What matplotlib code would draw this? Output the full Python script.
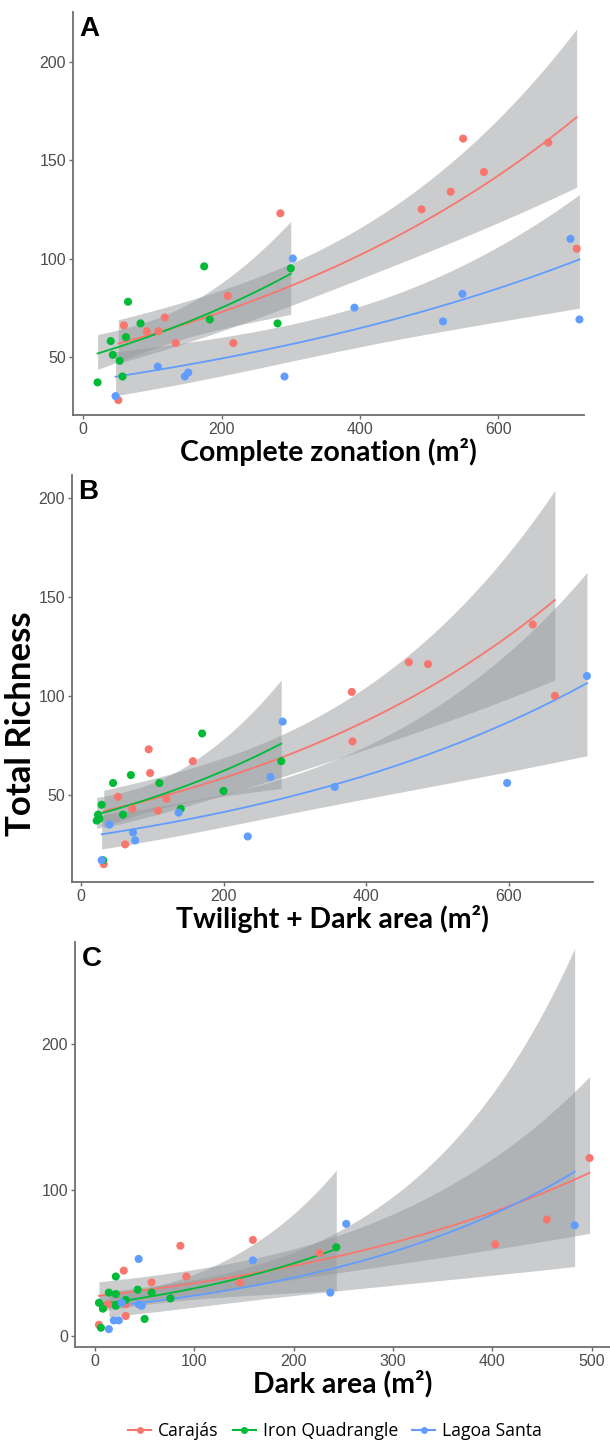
import math
import numpy as np
import matplotlib
matplotlib.use("Agg")
import matplotlib.pyplot as plt
from matplotlib.lines import Line2D

# ---- data -------------------------------------------------------------
sites = ["Carajás", "Iron Quadrangle", "Lagoa Santa"]
site_colors = ["#F8766D", "#00BA38", "#619CFF"]

# Panel A: complete zonation area (m²) vs total richness
a_car_x = [51, 59, 92, 109, 118, 134, 209, 217, 285, 489, 531, 549, 579, 672, 713]
a_car_y = [28, 66, 63, 63, 70, 57, 81, 57, 123, 125, 134, 161, 144, 159, 105]
a_iq_x = [21, 40, 43, 53, 57, 62, 65, 83, 175, 183, 281, 300]
a_iq_y = [37, 58, 51, 48, 40, 60, 78, 67, 96, 69, 67, 95]
a_ls_x = [47, 108, 147, 152, 291, 303, 392, 520, 548, 704, 717]
a_ls_y = [30, 45, 40, 42, 40, 100, 75, 68, 82, 110, 69]

# Panel B: twilight + dark area (m²)
b_car_x = [32, 52, 62, 72, 95, 97, 108, 120, 157, 380, 381, 460, 487, 634, 665]
b_car_y = [15, 49, 25, 43, 73, 61, 42, 48, 67, 102, 77, 117, 116, 136, 100]
b_iq_x = [22, 24, 26, 29, 31, 45, 59, 70, 110, 140, 170, 200, 281]
b_iq_y = [37, 40, 38, 45, 17, 56, 40, 60, 56, 43, 81, 52, 67]
b_ls_x = [29, 40, 73, 76, 137, 234, 266, 283, 356, 598, 710]
b_ls_y = [17, 35, 31, 27, 41, 29, 59, 87, 54, 56, 110]

# Panel C: dark area (m²)
c_car_x = [4, 13, 29, 31, 31, 57, 86, 92, 146, 159, 226, 403, 455, 498]
c_car_y = [8, 22, 45, 22, 14, 37, 62, 41, 37, 66, 57, 63, 80, 122]
c_iq_x = [4, 6, 8, 14, 21, 21, 21, 31, 43, 50, 57, 76, 243]
c_iq_y = [23, 6, 19, 30, 41, 29, 21, 25, 32, 12, 30, 26, 61]
c_ls_x = [14, 19, 24, 27, 44, 44, 47, 159, 237, 253, 483]
c_ls_y = [5, 11, 11, 23, 53, 22, 21, 52, 30, 77, 76]

panel_letters = ["A", "B", "C"]
x_titles = ["Complete zonation (m²)", "Twilight + Dark area (m²)", "Dark area (m²)"]
y_title = "Total Richness"
x_ticks = [[0, 200, 400, 600], [0, 200, 400, 600], [0, 100, 200, 300, 400, 500]]
y_ticks = [[50, 100, 150, 200], [50, 100, 150, 200], [0, 100, 200]]


# ---- negative binomial GLM (log link) smoother ------------------------
def _irls(X, y, theta, beta):
    for _ in range(200):
        eta = X @ beta
        mu = np.exp(eta)
        w = mu / (1.0 + mu / theta)
        zz = eta + (y - mu) / mu
        XtW = X.T * w
        new = np.linalg.solve(XtW @ X, XtW @ zz)
        if np.max(np.abs(new - beta)) < 1e-12:
            return new
        beta = new
    return beta


def _nb_loglik(theta, y, mu):
    return sum(math.lgamma(theta + yi) - math.lgamma(theta) - math.lgamma(yi + 1)
               + theta * math.log(theta) + yi * math.log(mi)
               - (theta + yi) * math.log(theta + mi) for yi, mi in zip(y, mu))


def _theta_ml(y, mu):
    lo, hi = math.log(0.01), math.log(1e6)
    g = (math.sqrt(5) - 1) / 2
    a, b = hi - g * (hi - lo), lo + g * (hi - lo)
    fa, fb = _nb_loglik(math.exp(a), y, mu), _nb_loglik(math.exp(b), y, mu)
    for _ in range(200):
        if fa > fb:
            hi, b, fb = b, a, fa
            a = hi - g * (hi - lo)
            fa = _nb_loglik(math.exp(a), y, mu)
        else:
            lo, a, fa = a, b, fb
            b = lo + g * (hi - lo)
            fb = _nb_loglik(math.exp(b), y, mu)
    return math.exp((lo + hi) / 2)


def glm_smooth(x, y, n=80, z=1.959964):
    x = np.asarray(x, float)
    y = np.asarray(y, float)
    X = np.column_stack([np.ones_like(x), x])
    beta = _irls(X, y, 1e8, np.array([np.log(y.mean()), 0.0]))
    mu = np.exp(X @ beta)
    theta = len(y) / np.sum((y / mu - 1) ** 2)
    for _ in range(50):
        beta = _irls(X, y, theta, beta)
        mu = np.exp(X @ beta)
        new_theta = _theta_ml(y, mu)
        if abs(new_theta - theta) < 1e-8 * theta:
            theta = new_theta
            break
        theta = new_theta
    beta = _irls(X, y, theta, beta)
    mu = np.exp(X @ beta)
    w = mu / (1.0 + mu / theta)
    cov = np.linalg.inv((X.T * w) @ X)
    xs = np.linspace(x.min(), x.max(), n)
    Xs = np.column_stack([np.ones_like(xs), xs])
    eta = Xs @ beta
    se = np.sqrt(np.einsum("ij,jk,ik->i", Xs, cov, Xs))
    return xs, np.exp(eta), np.exp(eta - z * se), np.exp(eta + z * se)


panels = [
    [(a_car_x, a_car_y), (a_iq_x, a_iq_y), (a_ls_x, a_ls_y)],
    [(b_car_x, b_car_y), (b_iq_x, b_iq_y), (b_ls_x, b_ls_y)],
    [(c_car_x, c_car_y), (c_iq_x, c_iq_y), (c_ls_x, c_ls_y)],
]

W, H = 610, 1442
fig = plt.figure(figsize=(W / 100, H / 100), dpi=100)

# axes boxes in pixels: left, right, top, bottom
boxes = [(73, 584, 12, 415), (72, 593, 475, 882), (75, 610, 942, 1347)]
xlims = [(-14.5, 723.6), (-12.6, 718.5), (-20.1, 518.6)]
ylims = [(20.4, 225.4), (6.0, 211.5), (-7.2, 269.7)]

tick_font = dict(family="Liberation Sans", size=11.5, color="#4D4D4D")
title_font = dict(family="Lato", weight="bold", size=20.5, color="black")

for i, groups in enumerate(panels):
    l, r, t, b = boxes[i]
    ax = fig.add_axes([l / W, 1 - b / H, (r - l) / W, (b - t) / H])
    for (gx, gy), col in zip(groups, site_colors):
        xs, fit, lo, hi = glm_smooth(gx, gy)
        ax.fill_between(xs, lo, hi, color="#979B9E", alpha=0.5, lw=0, zorder=1)
        ax.plot(xs, fit, color=col, lw=1.3, zorder=2)
    for (gx, gy), col in zip(groups, site_colors):
        ax.scatter(gx, gy, s=34, color=col, edgecolors="none", zorder=3)
    ax.set_xlim(*xlims[i])
    ax.set_ylim(*ylims[i])
    ax.set_xticks(x_ticks[i])
    ax.set_yticks(y_ticks[i])
    ax.set_xticklabels([str(v) for v in x_ticks[i]], **tick_font)
    ax.set_yticklabels([str(v) for v in y_ticks[i]], **tick_font)
    for side in ("top", "right"):
        ax.spines[side].set_visible(False)
    for side in ("left", "bottom"):
        ax.spines[side].set_color("#6E6E6E")
        ax.spines[side].set_linewidth(1.3)
    ax.tick_params(length=3, width=1, color="#6E6E6E", pad=2)
    ax.set_facecolor("white")
    ax.text(0.012, 0.99, panel_letters[i], transform=ax.transAxes,
            ha="left", va="top", family="Liberation Sans", weight="bold",
            size=20)
    ax.set_xlabel(x_titles[i], labelpad=1, **title_font)

fig.text(21 / W, 1 - 724 / H, y_title, rotation=90, ha="center", va="center",
         family="Lato", weight="bold", size=25)

handles = [Line2D([0], [0], color=c, lw=1.5, marker="o", markersize=5,
                  markeredgecolor="none") for c in site_colors]
fig.legend(handles, sites, loc="center", bbox_to_anchor=(335 / W, 1 - 1431 / H),
           ncol=3, frameon=False, handlelength=1.3, handletextpad=0.4,
           columnspacing=0.8, prop=dict(family="Open Sans", size=12.7))

fig.savefig("out.png", dpi=100, facecolor="white")
